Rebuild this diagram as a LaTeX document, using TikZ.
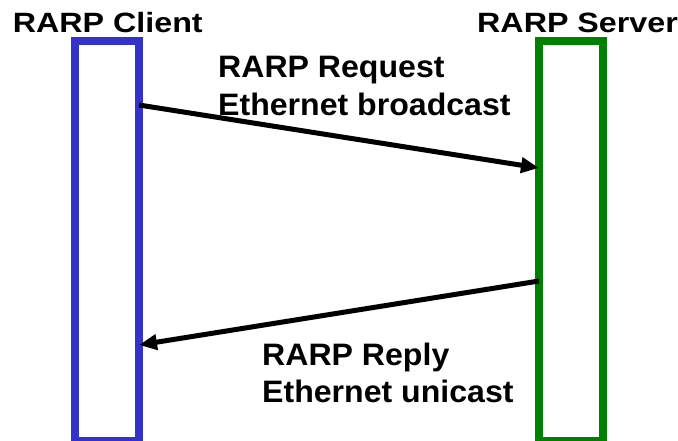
\documentclass[tikz,border=0pt]{standalone}
\usepackage{fontspec}
\setmainfont{Liberation Sans}
\usetikzlibrary{arrows.meta,calc}
\definecolor{clientblue}{HTML}{3333CC}
\definecolor{servergreen}{HTML}{008000}
\begin{document}
\begin{tikzpicture}[x=1pt,y=-1pt,
  lifeline/.style={draw, line width=8pt, minimum width=64pt, minimum height=400pt,
    inner sep=0pt, outer sep=0pt, anchor=north west},
  msg/.style={line width=5pt, -{Triangle[length=18pt,width=15pt]}},
  title/.style={font=\fontsize{31}{37}\selectfont\bfseries, inner sep=0pt, anchor=base west},
  lbl/.style={font=\fontsize{31}{37}\selectfont\bfseries, inner sep=0pt, anchor=base west}]
\useasboundingbox (0,0) rectangle (678,441);
\clip (0,0) rectangle (678,441);

% the two lifelines
\node[lifeline, draw=clientblue]  (client) at (75,41)  {};
\node[lifeline, draw=servergreen] (server) at (539,41) {};

% headings
\node[title] (clientTitle) at (12.7,33) {\scalebox{1.04}[0.9]{RARP Client}};
\node[title] (serverTitle) at (477,33)  {\scalebox{1.04}[0.9]{RARP Server}};

% request: client -> server
\coordinate (reqStart) at ($(client.north east)+(0,64)$);
\coordinate (reqEnd)   at ($(server.north west)+(0,127)$);
\draw[msg] (reqStart) -- (reqEnd);
\node[lbl] (reqA) at (218,78)  {\scalebox{1.035}[1]{RARP Request}};
\node[lbl] (reqB) at (218,116) {\scalebox{1.035}[1]{Ethernet broadcast}};

% reply: server -> client
\coordinate (repStart) at ($(server.north west)+(0,240)$);
\coordinate (repEnd)   at ($(client.north east)+(0,304)$);
\draw[msg] (repStart) -- (repEnd);
\node[lbl] (repA) at (262,365) {\scalebox{1.035}[1]{RARP Reply}};
\node[lbl] (repB) at (262,402) {\scalebox{1.035}[1]{Ethernet unicast}};
\end{tikzpicture}
\end{document}
